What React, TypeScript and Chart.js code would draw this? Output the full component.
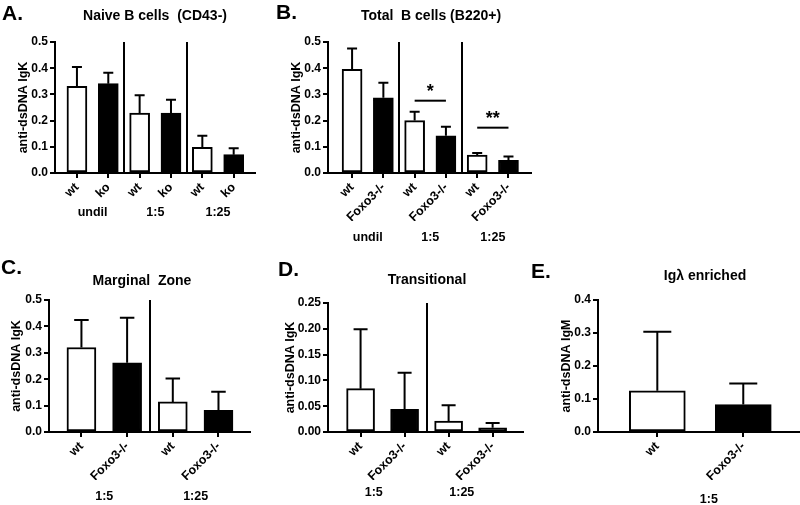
import React, { useEffect, useRef } from 'react';
import { Chart, registerables } from 'chart.js';

Chart.register(...registerables);

const FONT = '"Liberation Sans", Arial, Helvetica, sans-serif';

// ---------- Panel A: Naive B cells (CD43-) ----------
const aLabels = ['wt', 'ko', 'wt', 'ko', 'wt', 'ko'];
const aMeans = [0.331, 0.341, 0.229, 0.229, 0.098, 0.07];
const aErrors = [0.074, 0.042, 0.068, 0.051, 0.044, 0.024];
const aGroups = ['undil', '1:5', '1:25'];
const aYTicks = [0, 0.1, 0.2, 0.3, 0.4, 0.5];

// ---------- Panel B: Total B cells (B220+) ----------
const bLabels = ['wt', 'Foxo3-/-', 'wt', 'Foxo3-/-', 'wt', 'Foxo3-/-'];
const bMeans = [0.396, 0.287, 0.2, 0.142, 0.068, 0.048];
const bErrors = [0.079, 0.057, 0.034, 0.035, 0.008, 0.015];
const bGroups = ['undil', '1:5', '1:25'];
const bYTicks = [0, 0.1, 0.2, 0.3, 0.4, 0.5];
const bSigText = ['*', '**'];
const bSigFrom = [2, 4];
const bSigTo = [3, 5];
const bSigLevel = [0.276, 0.173];

// ---------- Panel C: Marginal Zone ----------
const cLabels = ['wt', 'Foxo3-/-', 'wt', 'Foxo3-/-'];
const cMeans = [0.32, 0.262, 0.114, 0.082];
const cErrors = [0.104, 0.171, 0.089, 0.07];
const cGroups = ['1:5', '1:25'];
const cYTicks = [0, 0.1, 0.2, 0.3, 0.4, 0.5];

// ---------- Panel D: Transitional ----------
const dLabels = ['wt', 'Foxo3-/-', 'wt', 'Foxo3-/-'];
const dMeans = [0.084, 0.044, 0.021, 0.008];
const dErrors = [0.115, 0.071, 0.031, 0.0095];
const dGroups = ['1:5', '1:25'];
const dYTicks = [0, 0.05, 0.1, 0.15, 0.2, 0.25];

// ---------- Panel E: Igλ enriched ----------
const eLabels = ['wt', 'Foxo3-/-'];
const eMeans = [0.125, 0.083];
const eErrors = [0.179, 0.064];
const eGroups = ['1:5'];
const eYTicks = [0, 0.1, 0.2, 0.3, 0.4];

type Sig = { from: number; to: number; level: number; text: string };
type Panel = {
  labels: string[];
  means: number[];
  errors: number[];
  groups: string[];
  groupAt: number[];
  separators: number[];
  yTicks: number[];
  decimals: number;
  yTitle: string;
  xMin: number;
  xMax: number;
  axisLeft: number;
  axisRight: number;
  top: number;
  bottom: number;
  yW: number;
  barPx: number;
  groupDy: number;
  sig: Sig[];
};

const panels: Panel[] = [
  {
    labels: aLabels, means: aMeans, errors: aErrors, groups: aGroups, groupAt: [0.5, 2.5, 4.5],
    separators: [1.5, 3.5], yTicks: aYTicks, decimals: 1, yTitle: 'anti-dsDNA IgK',
    xMin: -0.7, xMax: 5.68, axisLeft: 55, axisRight: 255, top: 42, bottom: 173, yW: 38.5, barPx: 20, groupDy: 40, sig: [],
  },
  {
    labels: bLabels, means: bMeans, errors: bErrors, groups: bGroups, groupAt: [0.5, 2.5, 4.5],
    separators: [1.5, 3.5], yTicks: bYTicks, decimals: 1, yTitle: 'anti-dsDNA IgK',
    xMin: -0.77, xMax: 5.72, axisLeft: 328, axisRight: 531, top: 42, bottom: 173, yW: 39, barPx: 20, groupDy: 65,
    sig: bSigText.map((t, i) => ({ from: bSigFrom[i], to: bSigTo[i], level: bSigLevel[i], text: t })),
  },
  {
    labels: cLabels, means: cMeans, errors: cErrors, groups: cGroups, groupAt: [0.5, 2.5],
    separators: [1.5], yTicks: cYTicks, decimals: 1, yTitle: 'anti-dsDNA IgK',
    xMin: -0.71, xMax: 3.69, axisLeft: 49, axisRight: 250, top: 300, bottom: 432, yW: 40, barPx: 29, groupDy: 65, sig: [],
  },
  {
    labels: dLabels, means: dMeans, errors: dErrors, groups: dGroups, groupAt: [0.3, 2.3],
    separators: [1.5], yTicks: dYTicks, decimals: 2, yTitle: 'anti-dsDNA IgK',
    xMin: -0.74, xMax: 3.69, axisLeft: 328, axisRight: 523, top: 303, bottom: 432, yW: 45, barPx: 28, groupDy: 61, sig: [],
  },
  {
    labels: eLabels, means: eMeans, errors: eErrors, groups: eGroups, groupAt: [0.6],
    separators: [], yTicks: eYTicks, decimals: 1, yTitle: 'anti-dsDNA IgM',
    xMin: -0.69, xMax: 1.66, axisLeft: 598, axisRight: 800, top: 300, bottom: 432, yW: 38.5, barPx: 56, groupDy: 68, sig: [],
  },
];

const headings = [
  { text: 'A.', x: 2, y: 12, size: 21, center: false },
  { text: 'B.', x: 276, y: 11, size: 21, center: false },
  { text: 'C.', x: 1, y: 266, size: 21, center: false },
  { text: 'D.', x: 278, y: 268, size: 21, center: false },
  { text: 'E.', x: 531, y: 270, size: 21, center: false },
  { text: 'Naive B cells  (CD43-)', x: 155, y: 15, size: 14, center: true },
  { text: 'Total  B cells (B220+)', x: 431, y: 15, size: 14, center: true },
  { text: 'Marginal  Zone', x: 142, y: 280, size: 14, center: true },
  { text: 'Transitional', x: 427, y: 279, size: 14, center: true },
  { text: 'Igλ enriched', x: 705, y: 275, size: 14, center: true },
];

const decorPlugin = {
  id: 'panelDecor',
  afterDatasetsDraw(chart: any, _args: any, opts: any) {
    const p: Panel = opts.panel;
    const { ctx, chartArea } = chart;
    const x = chart.scales.x;
    const y = chart.scales.y;
    ctx.save();
    ctx.strokeStyle = '#000';
    ctx.fillStyle = '#000';
    ctx.lineWidth = 2;
    ctx.lineCap = 'butt';
    // separators
    p.separators.forEach((s) => {
      const px = Math.round(x.getPixelForValue(s));
      ctx.beginPath();
      ctx.moveTo(px, y.getPixelForValue(0));
      ctx.lineTo(px, y.getPixelForValue(p.yTicks[p.yTicks.length - 1]));
      ctx.stroke();
    });
    // error bars (upper only)
    const meta = chart.getDatasetMeta(0);
    meta.data.forEach((bar: any, i: number) => {
      const base = y.getPixelForValue(p.means[i]);
      const top = y.getPixelForValue(p.means[i] + p.errors[i]);
      const half = p.barPx * 0.25;
      ctx.beginPath();
      ctx.moveTo(bar.x, base);
      ctx.lineTo(bar.x, top);
      ctx.moveTo(bar.x - half, top);
      ctx.lineTo(bar.x + half, top);
      ctx.stroke();
    });
    // significance
    p.sig.forEach((s) => {
      const x1 = x.getPixelForValue(s.from);
      const x2 = x.getPixelForValue(s.to);
      const py = y.getPixelForValue(s.level);
      ctx.beginPath();
      ctx.moveTo(x1, py);
      ctx.lineTo(x2, py);
      ctx.stroke();
      ctx.font = `bold 18px ${FONT}`;
      ctx.textAlign = 'center';
      ctx.textBaseline = 'middle';
      ctx.fillText(s.text, (x1 + x2) / 2, py - 9);
    });
    // group labels
    ctx.font = `bold 12.5px ${FONT}`;
    ctx.textAlign = 'center';
    ctx.textBaseline = 'middle';
    p.groups.forEach((g, i) => {
      ctx.fillText(g, x.getPixelForValue(p.groupAt[i]), chartArea.bottom + p.groupDy);
    });
    ctx.restore();
  },
};

function makeConfig(p: Panel): any {
  const xH = 48;
  const tickFont = { family: FONT, size: 12, weight: 'bold' as const };
  const gridCommon = {
    display: true,
    drawOnChartArea: false,
    drawTicks: true,
    tickLength: 5,
    tickWidth: 2,
    tickColor: '#000',
    color: '#000',
    lineWidth: 2,
    offset: false,
  };
  return {
    type: 'bar',
    data: {
      datasets: [
        {
          data: p.labels.map((_, i) => ({ x: i, y: p.means[i] })),
          backgroundColor: p.labels.map((l) => (l === 'wt' ? '#ffffff' : '#000000')),
          borderColor: '#000000',
          borderWidth: 2,
          borderSkipped: false,
          barThickness: p.barPx,
        },
      ],
    },
    options: {
      animation: false,
      responsive: false,
      events: [],
      layout: {
        padding: {
          left: p.axisLeft - p.yW,
          right: 800 - p.axisRight,
          top: p.top,
          bottom: 505 - p.bottom - xH,
        },
      },
      plugins: {
        legend: { display: false },
        tooltip: { enabled: false },
        title: { display: false },
        panelDecor: { panel: p },
      },
      scales: {
        x: {
          type: 'linear',
          min: p.xMin,
          max: p.xMax,
          offset: false,
          afterBuildTicks: (s: any) => {
            s.ticks = p.labels.map((_, i) => ({ value: i }));
          },
          afterFit: (s: any) => {
            s.height = xH;
          },
          ticks: {
            autoSkip: false,
            maxRotation: 45,
            minRotation: 45,
            color: '#000',
            font: { family: FONT, size: 12.5, weight: 'bold' },
            padding: 2,
            callback: (_v: any, i: number) => p.labels[i],
          },
          grid: gridCommon,
          border: { display: true, color: '#000', width: 2 },
        },
        y: {
          type: 'linear',
          min: 0,
          max: p.yTicks[p.yTicks.length - 1],
          afterBuildTicks: (s: any) => {
            s.ticks = p.yTicks.map((v) => ({ value: v }));
          },
          afterFit: (s: any) => {
            s.width = p.yW;
          },
          ticks: {
            color: '#000',
            font: tickFont,
            padding: 2,
            callback: (v: any) => Number(v).toFixed(p.decimals),
          },
          title: {
            display: true,
            text: p.yTitle,
            color: '#000',
            font: { family: FONT, size: 12.5, weight: 'bold', lineHeight: 1.2 },
            padding: 0,
          },
          grid: gridCommon,
          border: { display: true, color: '#000', width: 2 },
        },
      },
    },
    plugins: [decorPlugin],
  };
}

function PanelChart({ panel }: { panel: Panel }) {
  const ref = useRef<HTMLCanvasElement | null>(null);
  useEffect(() => {
    if (!ref.current) return;
    const chart = new Chart(ref.current, makeConfig(panel));
    return () => chart.destroy();
  }, [panel]);
  return (
    <canvas
      ref={ref}
      width={800}
      height={505}
      style={{ position: 'absolute', left: 0, top: 0, width: 800, height: 505 }}
    />
  );
}

export default function App() {
  return (
    <div
      style={{
        position: 'absolute',
        left: 0,
        top: 0,
        width: 800,
        height: 505,
        background: '#ffffff',
        overflow: 'hidden',
      }}
    >
      {panels.map((p, i) => (
        <PanelChart key={i} panel={p} />
      ))}
      {headings.map((h, i) => (
        <div
          key={'h' + i}
          style={{
            position: 'absolute',
            left: h.x,
            top: h.y,
            transform: h.center ? 'translate(-50%, -50%)' : 'translate(0, -50%)',
            fontFamily: FONT,
            fontWeight: 'bold',
            fontSize: h.size,
            color: '#000',
            whiteSpace: 'pre',
            lineHeight: 1,
          }}
        >
          {h.text}
        </div>
      ))}
    </div>
  );
}
